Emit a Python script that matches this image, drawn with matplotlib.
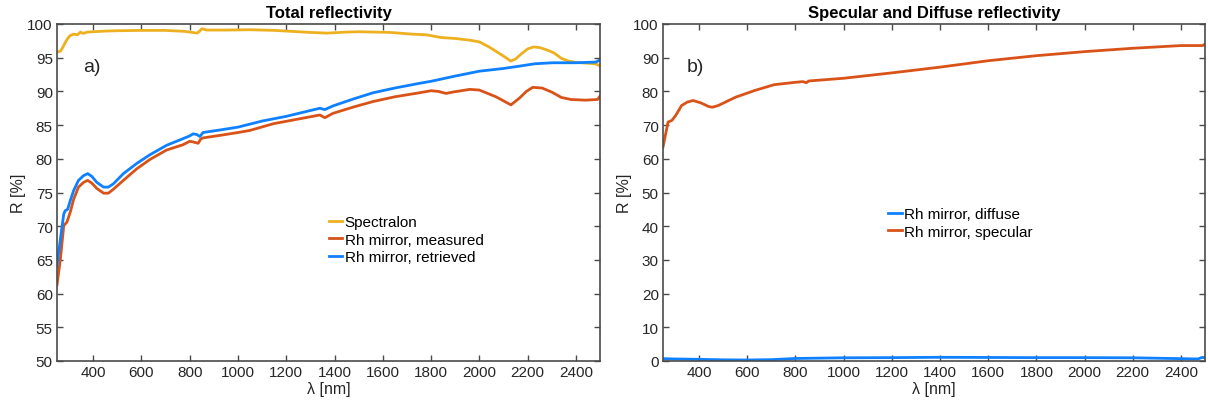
import matplotlib
matplotlib.use("Agg")
import matplotlib.pyplot as plt

plt.rcParams['font.family'] = ['Liberation Sans', 'DejaVu Sans']

# Spectralon reference
wl_spectralon = [250, 265, 275, 285, 295, 305, 320, 335, 347, 360, 375, 400, 450, 500,
                 600, 700, 780, 810, 830, 840, 850, 870, 950, 1050, 1150, 1250, 1300,
                 1370, 1450, 1500, 1630, 1720, 1780, 1840, 1900, 1960, 2000, 2040, 2080,
                 2110, 2130, 2150, 2175, 2200, 2225, 2250, 2280, 2310, 2340, 2370, 2400,
                 2440, 2480, 2500]
r_spectralon = [95.8, 96.0, 96.6, 97.3, 97.9, 98.3, 98.5, 98.4, 98.8, 98.6, 98.8, 98.85,
                98.95, 99.0, 99.05, 99.05, 98.9, 98.75, 98.65, 98.9, 99.3, 99.1, 99.1,
                99.15, 99.05, 98.85, 98.75, 98.65, 98.8, 98.85, 98.75, 98.5, 98.4, 98.0,
                97.85, 97.6, 97.35, 96.6, 95.7, 95.0, 94.5, 94.8, 95.6, 96.3, 96.6, 96.5,
                96.15, 95.7, 94.9, 94.5, 94.3, 94.2, 94.1, 93.8]

# Rh mirror, measured
wl_measured = [250, 264, 278, 291, 305, 319, 339, 360, 377, 394, 415, 443, 463, 484, 525,
               580, 635, 704, 773, 800, 814, 835, 845, 855, 930, 1000, 1048, 1146, 1250,
               1339, 1360, 1394, 1480, 1560, 1650, 1752, 1800, 1830, 1862, 1890, 1960,
               2000, 2069, 2131, 2166, 2195, 2221, 2260, 2300, 2340, 2380, 2440, 2490, 2500]
r_measured = [61.3, 65.1, 70.1, 70.6, 72.1, 74.0, 75.8, 76.5, 76.8, 76.4, 75.6, 74.9, 74.9,
              75.5, 76.8, 78.5, 79.9, 81.3, 82.1, 82.6, 82.5, 82.3, 82.9, 83.1, 83.5, 83.9,
              84.2, 85.2, 85.9, 86.5, 86.1, 86.75, 87.7, 88.5, 89.2, 89.8, 90.1, 90.0,
              89.7, 89.9, 90.3, 90.2, 89.2, 88.0, 89.0, 90.0, 90.6, 90.5, 89.9, 89.1,
              88.8, 88.7, 88.8, 89.3]

# Rh mirror, retrieved
wl_retrieved = [250, 264, 278, 284, 294, 305, 319, 339, 360, 377, 394, 415, 443, 463, 484,
                525, 580, 635, 704, 773, 800, 814, 830, 842, 855, 930, 1000, 1100, 1200,
                1339, 1360, 1394, 1480, 1560, 1650, 1752, 1800, 1890, 2000, 2100, 2166,
                2230, 2304, 2400, 2484, 2500]
r_retrieved = [64.1, 68.1, 71.8, 72.3, 72.5, 73.8, 75.3, 76.8, 77.5, 77.8, 77.4, 76.5, 75.8,
               75.8, 76.3, 77.8, 79.3, 80.6, 82.0, 83.0, 83.4, 83.7, 83.6, 83.3, 83.9, 84.3,
               84.7, 85.6, 86.3, 87.5, 87.3, 87.85, 88.9, 89.8, 90.5, 91.2, 91.5, 92.2,
               93.0, 93.4, 93.75, 94.1, 94.25, 94.25, 94.35, 94.7]

# Rh mirror, specular part
wl_specular = [250, 271, 287, 303, 327, 350, 375, 407, 440, 455, 479, 552, 632, 712, 800,
               830, 845, 856, 1000, 1200, 1400, 1600, 1800, 2000, 2200, 2400, 2490, 2500]
r_specular = [63.5, 70.9, 71.4, 72.9, 75.8, 76.8, 77.3, 76.6, 75.5, 75.3, 75.8, 78.3, 80.3,
              82.0, 82.7, 82.9, 82.6, 83.1, 83.9, 85.5, 87.2, 89.1, 90.6, 91.8, 92.8, 93.6,
              93.6, 94.0]

# Rh mirror, diffuse part
wl_diffuse = [250, 300, 400, 500, 600, 700, 800, 1000, 1200, 1400, 1600, 1800, 2000, 2200,
              2400, 2470, 2490, 2500]
r_diffuse = [0.7, 0.6, 0.5, 0.35, 0.3, 0.4, 0.75, 0.95, 1.0, 1.1, 1.05, 1.0, 1.0, 0.95,
             0.7, 0.6, 1.1, 0.9]

x_ticks = list(range(400, 2401, 200))
yticks_a = list(range(50, 101, 5))
yticks_b = list(range(0, 101, 10))

C_YELLOW = '#EDB120'
C_RED = '#D95319'
C_BLUE = '#0F80FF'
C_AXIS = '#4a4a4a'
C_TEXT = '#262626'

fig = plt.figure(figsize=(12.08, 4.10), dpi=100)
ax1 = fig.add_axes([57 / 1208, 48 / 410, 543 / 1208, 337 / 410])
ax2 = fig.add_axes([663 / 1208, 48 / 410, 542 / 1208, 337 / 410])


def style(ax, yticks, ylim):
    ax.set_xlim(250, 2500)
    ax.set_ylim(*ylim)
    ax.set_xticks(x_ticks)
    ax.set_yticks(yticks)
    ax.tick_params(direction='in', top=True, right=True, length=4.5, width=1.0,
                   colors=C_AXIS, labelcolor=C_TEXT, labelsize=11, pad=3)
    for sp in ax.spines.values():
        sp.set_color(C_AXIS)
        sp.set_linewidth(1.2)
    ax.set_xlabel('λ [nm]', fontsize=11.5, color=C_TEXT, labelpad=1)
    ax.set_ylabel('R [%]', fontsize=11.5, color=C_TEXT, labelpad=1)


lw = 2.0
ax1.plot(wl_spectralon, r_spectralon, color=C_YELLOW, lw=lw, label='Spectralon')
ax1.plot(wl_measured, r_measured, color=C_RED, lw=lw, label='Rh mirror, measured')
ax1.plot(wl_retrieved, r_retrieved, color=C_BLUE, lw=lw, label='Rh mirror, retrieved')
style(ax1, yticks_a, (50, 100))
ax1.set_title('Total reflectivity', fontsize=12, fontweight='bold', pad=5)
ax1.text(0.048, 0.873, 'a)', transform=ax1.transAxes, fontsize=14, va='center', ha='left',
         color=C_TEXT)
ax1.legend(loc='center left', bbox_to_anchor=(0.50, 0.36), frameon=False, fontsize=11,
           handlelength=0.9, handletextpad=0.15, labelspacing=0.25, borderpad=0,
           borderaxespad=0)

ax2.plot(wl_diffuse, r_diffuse, color=C_BLUE, lw=lw, label='Rh mirror, diffuse')
ax2.plot(wl_specular, r_specular, color=C_RED, lw=lw, label='Rh mirror, specular')
style(ax2, yticks_b, (0, 100))
ax2.set_title('Specular and Diffuse reflectivity', fontsize=12, fontweight='bold', pad=5)
ax2.text(0.043, 0.873, 'b)', transform=ax2.transAxes, fontsize=14, va='center', ha='left',
         color=C_TEXT)
ax2.legend(loc='center left', bbox_to_anchor=(0.415, 0.41), frameon=False, fontsize=11,
           handlelength=0.9, handletextpad=0.15, labelspacing=0.25, borderpad=0,
           borderaxespad=0)

fig.savefig('out.png', dpi=100)
